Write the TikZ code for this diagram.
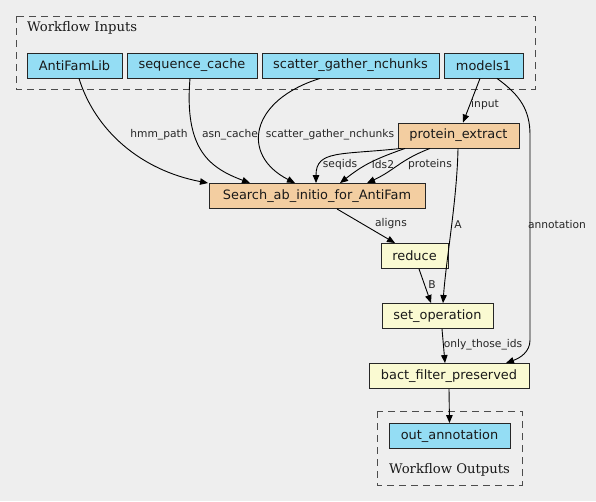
\documentclass[tikz,border=0pt]{standalone}
\usepackage{fontspec}
\setmainfont{DejaVu Sans}
\newfontfamily\clfont{DejaVu Serif}
\usetikzlibrary{arrows.meta}
\definecolor{bg}{HTML}{EEEEEE}
\definecolor{inblue}{HTML}{94DDF4}
\definecolor{stepor}{HTML}{F3CEA1}
\definecolor{opyel}{HTML}{FAFAD2}
\tikzset{
  box/.style={draw=black!85, line width=0.9pt, minimum height=25pt, inner sep=0pt,
    font=\fontsize{12.9}{14}\selectfont, text=black!90},
  inp/.style={box, fill=inblue},
  stp/.style={box, fill=stepor},
  opn/.style={box, fill=opyel},
  elab/.style={font=\fontsize{10.7}{12}\selectfont, text=black!85, inner sep=0pt},
  clab/.style={font=\clfont\fontsize{13.2}{15}\selectfont, text=black!90, inner sep=0pt},
  cluster/.style={draw=black!70, line width=0.9pt, dash pattern=on 7pt off 5pt},
  arr/.style={draw=black, line width=0.9pt, -{Triangle[length=8pt,width=6.5pt]}}
}
\begin{document}
\begin{tikzpicture}[x=1pt,y=-1pt]
\fill[bg] (0,0) rectangle (596,501);
\useasboundingbox (0,0) rectangle (596,501);

% clusters
\draw[cluster] (16,16) rectangle (535,89);
\node[clab, anchor=west] (cin) at (27,27.5) {Workflow Inputs};
\draw[cluster] (377,411) rectangle (522,485);
\node[clab] (cout) at (449.5,470) {Workflow Outputs};

% input nodes
\node[inp, minimum width=95pt] (afl) at (74.5,65.5) {AntiFamLib};
\node[inp, minimum width=130pt] (seq) at (192,65.5) {sequence\_cache};
\node[inp, minimum width=177pt] (scat) at (350.5,65.5) {scatter\_gather\_nchunks};
\node[inp, minimum width=79pt] (m1) at (483.5,65.5) {models1};

% steps
\node[stp, minimum width=121pt] (pe) at (458.5,135.5) {protein\_extract};
\node[stp, minimum width=216pt] (srch) at (317,196) {Search\_ab\_initio\_for\_AntiFam};
\node[opn, minimum width=67pt] (red) at (414.5,256) {reduce};
\node[opn, minimum width=111pt] (setop) at (437.5,316) {set\_operation};
\node[opn, minimum width=160pt] (bf) at (449,376) {bact\_filter\_preserved};
\node[inp, minimum width=121pt] (out) at (449.5,436) {out\_annotation};

% edges
\draw[arr] ([xshift=4.5pt]afl.south) .. controls (95,130) and (140,170) .. ([xshift=-109pt]srch.north);
\node[elab] (l1) at (159,135) {hmm\_path};

\draw[arr] ([xshift=-2pt]seq.south) .. controls (184,150) and (210,168) .. ([xshift=-67pt]srch.north);
\node[elab] (l2) at (230,135) {asn\_cache};

\draw[arr] ([xshift=-30.5pt]scat.south) .. controls (250,100) and (240,155) .. ([xshift=-22pt]srch.north);
\node[elab] (l3) at (330,135) {scatter\_gather\_nchunks};

\draw[arr] ([xshift=-3.5pt]m1.south) -- ([xshift=4.5pt]pe.north);
\node[elab] (l4) at (485,105) {input};

\draw[arr] ([xshift=13.5pt]m1.south) .. controls (520,95) and (530,110) .. (530,135)
   -- (530,340) .. controls (530,352) and (520,358) .. ([xshift=57pt]bf.north);
\node[elab] (l5) at (557,225) {annotation};

\draw[arr] ([xshift=-57.5pt]pe.south) .. controls (340,155) and (316,150) .. ([xshift=-1pt]srch.north);
\node[elab] (l6) at (340,165) {seqids};
\draw[arr] ([xshift=-53.5pt]pe.south) .. controls (372,160) and (362,166) .. ([xshift=23pt]srch.north);
\node[elab] (l7) at (383,165) {lds2};
\draw[arr] ([xshift=-28.5pt]pe.south) .. controls (400,160) and (395,170) .. ([xshift=50pt]srch.north);
\node[elab] (l8) at (430,165) {proteins};

\draw[arr] ([xshift=-0.5pt]pe.south) .. controls (457,200) and (446,260) .. ([xshift=5.5pt]setop.north);
\node[elab] (l9) at (458,225) {A};

\draw[arr] ([xshift=20pt]srch.south) -- ([xshift=-19.5pt]red.north);
\node[elab] (l10) at (391,224) {aligns};

\draw[arr] ([xshift=4.5pt]red.south) -- ([xshift=-6.5pt]setop.north);
\node[elab] (l11) at (432,285) {B};

\draw[arr] ([xshift=4.5pt]setop.south) -- ([xshift=-4pt]bf.north);
\node[elab] (l12) at (483,345) {only\_those\_ids};

\draw[arr] (bf.south) -- (out.north);
\end{tikzpicture}
\end{document}
